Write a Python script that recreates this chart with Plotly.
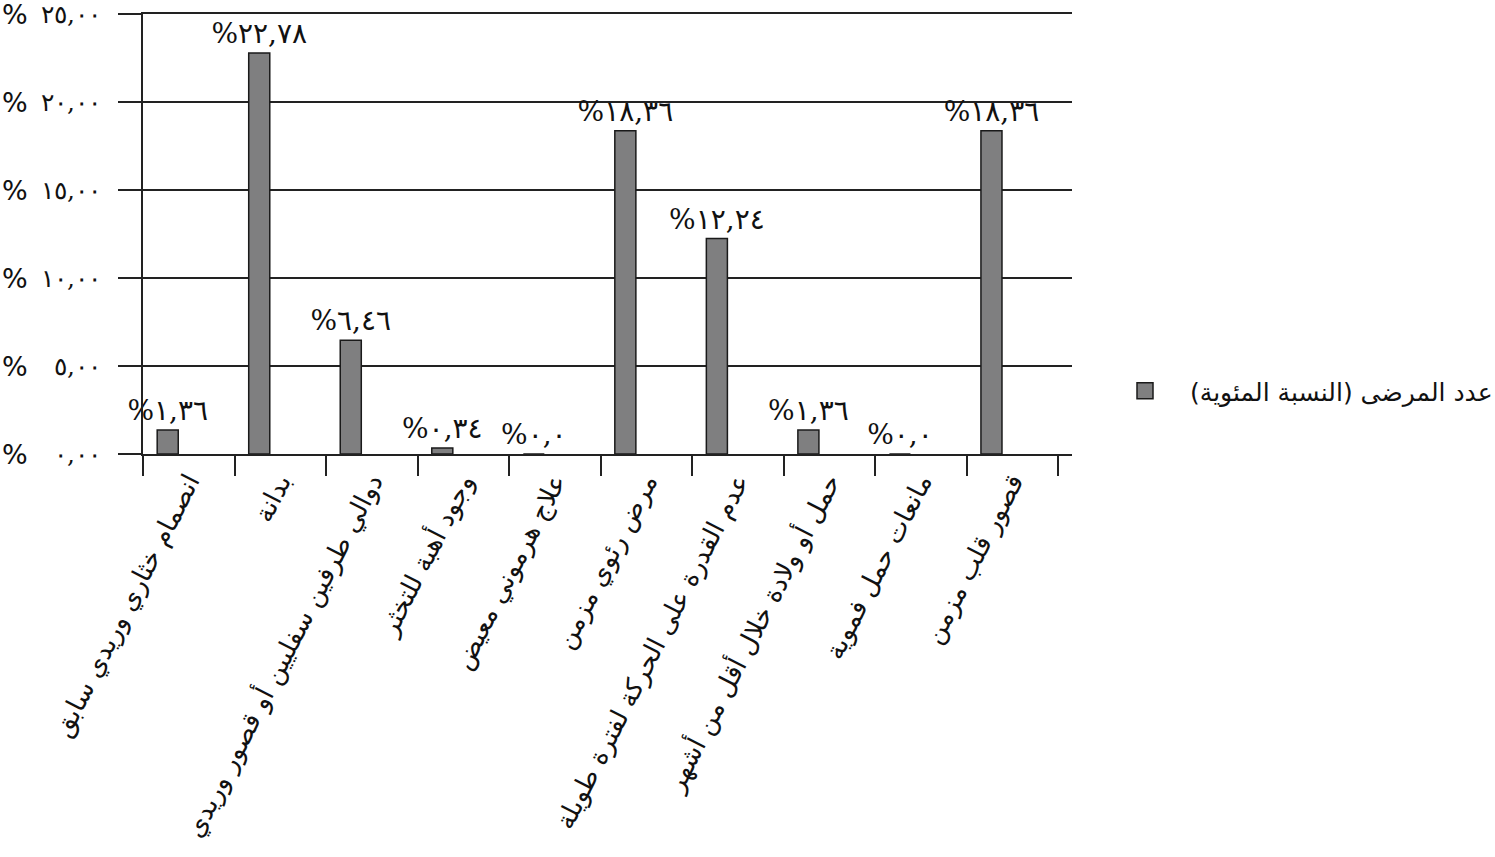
import plotly.graph_objects as go

categories = [
    "انصمام خثاري وريدي سابق",
    "بدانة",
    "دوالي طرفين سفليين أو قصور وريدي",
    "وجود أهبة للتخثر",
    "علاج هرموني معيض",
    "مرض رئوي مزمن",
    "عدم القدرة على الحركة لفترة طويلة",
    "حمل أو ولادة خلال أقل من أشهر",
    "مانعات حمل فموية",
    "قصور قلب مزمن",
]
values = [1.36, 22.78, 6.46, 0.34, 0.0, 18.36, 12.24, 1.36, 0.0, 18.36]
value_labels = ["%١,٣٦", "%٢٢,٧٨", "%٦,٤٦", "%٠,٣٤", "%٠,٠", "%١٨,٣٦", "%١٢,٢٤", "%١,٣٦", "%٠,٠", "%١٨,٣٦"]
y_tickvals = [0, 5, 10, 15, 20, 25]
y_ticktext = ["٠,٠٠", "٥,٠٠", "١٠,٠٠", "١٥,٠٠", "٢٠,٠٠", "٢٥,٠٠"]
series_name = "عدد المرضى (النسبة المئوية)"

BAR_COLOR = "#7f7f80"
EDGE = "#1a1a1a"

W, H = 1495, 857
L, T = 143, 14
PW, PH = 929, 440

fig = go.Figure()
fig.add_trace(go.Bar(
    x=categories, y=values, name=series_name,
    text=value_labels, textposition="outside", cliponaxis=False,
    constraintext="none",
    textfont=dict(family="DejaVu Serif, DejaVu Sans", size=28, color="#111"),
    marker=dict(color=BAR_COLOR, line=dict(color=EDGE, width=1.5)),
    width=0.23, offset=-0.345,
    showlegend=False,
))
fig.add_trace(go.Scatter(
    x=[None], y=[None], mode="markers", name=series_name,
    marker=dict(symbol="square", size=28, color=BAR_COLOR, line=dict(color=EDGE, width=1.5)),
    showlegend=True,
))

# percent signs to the left of each y tick label
for v in y_tickvals:
    fig.add_annotation(x=-L / PW, xref="paper", xanchor="left", y=v, yref="y",
                       text="%", showarrow=False,
                       font=dict(family="DejaVu Sans", size=27, color="#111"))

fig.update_layout(
    width=W, height=H,
    margin=dict(l=L, r=W - L - PW, t=T, b=H - T - PH, autoexpand=False),
    paper_bgcolor="white", plot_bgcolor="white",
    font=dict(family="DejaVu Sans", color="#111"),
    showlegend=True,
    legend=dict(x=(1100 - L) / PW, y=(454 - 391) / PH, xanchor="left", yanchor="middle",
                itemsizing="trace", itemwidth=80,
                font=dict(size=25, family="DejaVu Sans"), bgcolor="rgba(0,0,0,0)"),
    xaxis=dict(
        type="category", range=[-0.5, 9.65], automargin=False,
        showline=True, linecolor="#222", linewidth=2, mirror=True,
        ticks="outside", tickson="boundaries", ticklen=20, tickwidth=2, tickcolor="#222",
        tickangle=-63, tickfont=dict(size=26, family="DejaVu Sans", color="#111"),
        showgrid=False,
    ),
    yaxis=dict(
        range=[0, 25], tickvals=y_tickvals, ticktext=y_ticktext, automargin=False,
        ticklabeloverflow="allow",
        showline=True, linecolor="#222", linewidth=2,
        ticks="outside", ticklen=23, tickwidth=2, tickcolor="#222",
        ticklabelstandoff=12,
        showgrid=True, gridcolor="#222", gridwidth=2,
        tickfont=dict(size=25, family="DejaVu Serif", color="#111"),
        zeroline=False,
    ),
)

fig.write_html("out.html", config={"displayModeBar": False},
               post_script="document.body.style.margin='0px';")
